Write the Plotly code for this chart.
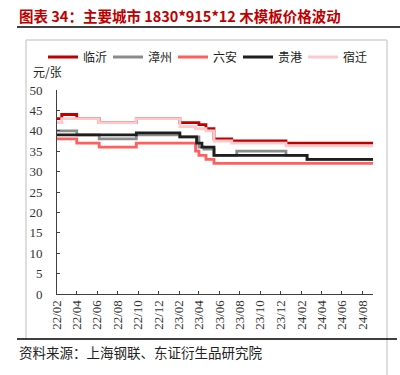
import plotly.graph_objects as go

# ---- data (step change points) ----
END = "2024-09-02"
linyi_dates = ["2022-02-01", "2022-02-15", "2022-04-01", "2022-06-07", "2022-09-26", "2023-02-03",
               "2023-04-01", "2023-04-22", "2023-05-16", "2023-07-08", "2023-12-17", END]
linyi_vals = [43, 44, 43, 42, 43, 42, 41.5, 40.5, 38, 37.5, 37, 37]

zhangzhou_dates = ["2022-02-01", "2022-04-01", "2022-06-07", "2022-09-26", "2023-02-03", "2023-04-01",
                   "2023-04-16", "2023-05-16", "2023-07-23", "2023-12-17", "2024-02-18", END]
zhangzhou_vals = [40, 39, 38, 39, 38.5, 36, 35.5, 34, 35, 34, 33, 33]

luan_dates = ["2022-02-01", "2022-04-01", "2022-06-07", "2022-09-26", "2023-03-22", "2023-04-01",
              "2023-04-22", "2023-05-16", END]
luan_vals = [38, 37, 36, 37, 35, 34, 33, 32, 32]

guigang_dates = ["2022-02-01", "2022-09-26", "2023-02-03", "2023-03-25", "2023-04-10", "2023-05-16",
                 "2024-02-18", END]
guigang_vals = [39, 39.5, 38.5, 37, 36, 34, 33, 33]

suqian_dates = ["2022-02-01", "2022-02-15", "2022-06-07", "2022-09-26", "2023-02-03", "2023-03-22",
                "2023-04-22", "2023-05-16", "2023-07-08", "2023-12-17", END]
suqian_vals = [42, 43, 42, 43, 41, 40.5, 40, 37.5, 37, 36.3, 36.3]

series_names = ["临沂", "漳州", "六安", "贵港", "宿迁"]
series_colors = ["#C00000", "#8C8C8C", "#FF5F5F", "#1E1E1E", "#FFC9CC"]

title_text = "图表 34：主要城市 1830*915*12 木模板价格波动"
unit_text = "元/张"
source_text = "资料来源：上海钢联、东证衍生品研究院"

# ---- layout geometry (screen pixels; page body margin removed) ----
W, H = 400, 375
L, R, T, B = 57, 373, 90, 294


def px2x(sx):
    return (sx - L) / (R - L)


def px2y(sy):
    return (B - sy) / (B - T)


fig = go.Figure()
all_dates = [linyi_dates, zhangzhou_dates, luan_dates, guigang_dates, suqian_dates]
all_vals = [linyi_vals, zhangzhou_vals, luan_vals, guigang_vals, suqian_vals]
for name, color, d, v in zip(series_names, series_colors, all_dates, all_vals):
    fig.add_trace(go.Scatter(x=d, y=v, name=name, mode="lines",
                             line=dict(color=color, width=2.8, shape="hv")))

serif = "Liberation Serif, Times New Roman, serif"
cjk = "Noto Sans CJK SC, sans-serif"

fig.update_layout(
    width=W, height=H,
    margin=dict(l=L, r=W - R, t=T, b=H - B, pad=0, autoexpand=False),
    paper_bgcolor="white", plot_bgcolor="white",
    showlegend=True,
    legend=dict(orientation="h", x=px2x(43), y=px2y(57), xanchor="left", yanchor="middle",
                font=dict(family=cjk, size=12, color="#222"),
                entrywidth=20, entrywidthmode="pixels", itemwidth=30,
                bgcolor="rgba(0,0,0,0)", borderwidth=0),
    xaxis=dict(type="date", range=["2022-02-01", END], tick0="2022-02-01", dtick="M2",
               tickformat="%y/%m", tickangle=-90, ticks="inside", ticklen=3,
               tickcolor="#404040", showline=True, linecolor="#404040", linewidth=1,
               showgrid=False, zeroline=False, automargin=False,
               tickfont=dict(family=serif, size=13, color="#333")),
    yaxis=dict(range=[0, 50], dtick=5, ticks="inside", ticklen=3, tickcolor="#404040",
               showline=True, linecolor="#404040", linewidth=1, showgrid=False, zeroline=False,
               ticklabelstandoff=11, automargin=False,
               tickfont=dict(family=serif, size=13, color="#333")),
    annotations=[
        dict(text="<b>" + title_text + "</b>", x=px2x(17), y=px2y(15.5), xref="paper", yref="paper",
             xanchor="left", yanchor="middle", showarrow=False,
             font=dict(family=cjk, size=14.5, color="#C00000")),
        dict(text=unit_text, x=px2x(31), y=px2y(71), xref="paper", yref="paper",
             xanchor="left", yanchor="middle", showarrow=False,
             font=dict(family=cjk, size=12, color="#222")),
        dict(text=source_text, x=px2x(17), y=px2y(352), xref="paper", yref="paper",
             xanchor="left", yanchor="middle", showarrow=False,
             font=dict(family=cjk, size=13.5, color="#222")),
    ],
    shapes=[
        dict(type="line", xref="paper", yref="paper", x0=px2x(17), x1=px2x(400),
             y0=px2y(27), y1=px2y(27), line=dict(color="black", width=1.5)),
        dict(type="line", xref="paper", yref="paper", x0=px2x(26), x1=px2x(387),
             y0=px2y(40), y1=px2y(40), line=dict(color="#D3D3D3", width=1.5)),
        dict(type="line", xref="paper", yref="paper", x0=px2x(26), x1=px2x(26),
             y0=px2y(40), y1=px2y(339), line=dict(color="#D3D3D3", width=1.5)),
        dict(type="line", xref="paper", yref="paper", x0=px2x(387), x1=px2x(387),
             y0=px2y(40), y1=px2y(375), line=dict(color="#D3D3D3", width=1.5)),
        dict(type="line", xref="paper", yref="paper", x0=px2x(17), x1=px2x(397),
             y0=px2y(339), y1=px2y(339), line=dict(color="black", width=1.5)),
    ],
)

fig.write_html("out.html", config={"displayModeBar": False},
               post_script="document.body.style.margin='0';document.body.style.overflow='hidden';")
